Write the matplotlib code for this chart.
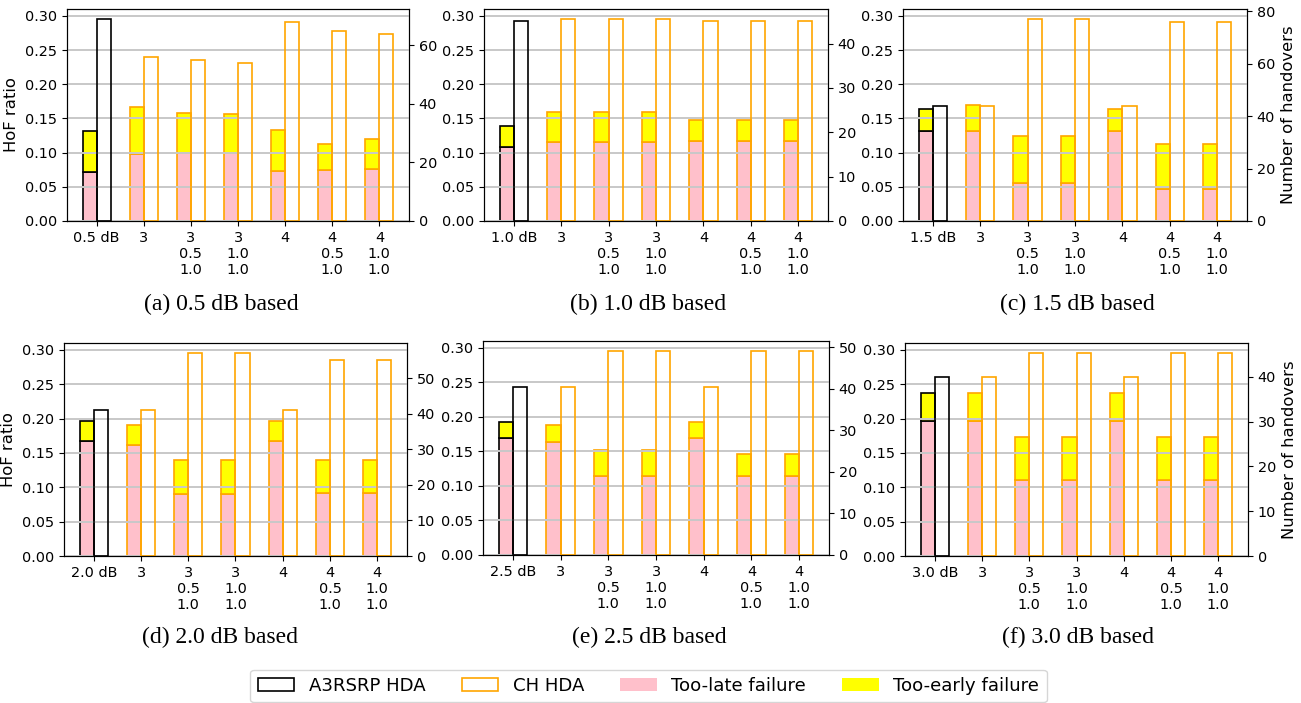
import numpy as np
import matplotlib
matplotlib.use("Agg")
import matplotlib.pyplot as plt
from matplotlib.patches import Patch

plt.rcParams['font.family'] = ['DejaVu Sans']

# x tick labels: baseline offset first, then TTT / hysteresis / offset combos
combos = ["3", "3\n0.5\n1.0", "3\n1.0\n1.0", "4", "4\n0.5\n1.0", "4\n1.0\n1.0"]
offsets = ["0.5", "1.0", "1.5", "2.0", "2.5", "3.0"]
panel_tags = ["a", "b", "c", "d", "e", "f"]

# too-late failure ratio per panel
too_late = [
    [0.072, 0.098, 0.099, 0.100, 0.0735, 0.0745, 0.0755],
    [0.108, 0.115, 0.115, 0.115, 0.117, 0.117, 0.117],
    [0.131, 0.132, 0.055, 0.055, 0.131, 0.047, 0.047],
    [0.167, 0.162, 0.090, 0.090, 0.167, 0.092, 0.092],
    [0.169, 0.163, 0.115, 0.115, 0.169, 0.115, 0.115],
    [0.196, 0.196, 0.111, 0.111, 0.196, 0.111, 0.111],
]
# too-early failure ratio per panel (stacked on top of too-late)
too_early = [
    [0.059, 0.068, 0.059, 0.057, 0.0595, 0.0385, 0.0445],
    [0.031, 0.045, 0.045, 0.045, 0.031, 0.031, 0.031],
    [0.033, 0.037, 0.070, 0.070, 0.033, 0.066, 0.066],
    [0.030, 0.029, 0.049, 0.049, 0.030, 0.048, 0.048],
    [0.024, 0.025, 0.037, 0.037, 0.024, 0.032, 0.032],
    [0.041, 0.041, 0.062, 0.062, 0.041, 0.062, 0.062],
]
# number of handovers per panel
handovers = [
    [69, 56, 55, 54, 68, 65, 64],
    [45, 45.5, 45.5, 45.5, 45, 45, 45],
    [44, 44, 77, 77, 44, 76, 76],
    [41, 41, 57, 57, 41, 55, 55],
    [40.5, 40.5, 49, 49, 40.5, 49, 49],
    [40, 40, 45.3, 45.3, 40, 45.3, 45.3],
]

W, H = 1301, 703
fig = plt.figure(figsize=(W / 100, H / 100), dpi=100)

# axes boxes in pixels: left, right, top, bottom
boxes = [
    (67, 409, 9, 221), (484, 828, 9, 221), (903, 1247, 9, 221),
    (64, 407, 343, 556), (483, 829, 341, 555), (905, 1248, 343, 556),
]
caption_x = [221, 648, 1077, 220, 649, 1078]
caption_y = [304, 304, 304, 637, 637, 637]

width = 0.3
lw = 1.2
x = np.arange(7)

for i in range(6):
    l, r, t, b = boxes[i]
    ax = fig.add_axes([l / W, 1 - b / H, (r - l) / W, (b - t) / H])
    ax2 = ax.twinx()

    edge = ['black'] + ['orange'] * 6
    late = np.array(too_late[i])
    early = np.array(too_early[i])
    ax.bar(x - width / 2, late, width, color='pink', edgecolor=edge, linewidth=lw)
    ax.bar(x - width / 2, early, width, bottom=late, color='yellow',
           edgecolor=edge, linewidth=lw)
    ax2.bar(x + width / 2, handovers[i], width, color='none',
            edgecolor=edge, linewidth=lw)

    ax.set_ylim(0, 0.31)
    ax.set_xticks(x)
    ax.set_xticklabels([offsets[i] + " dB"] + combos)
    ax.grid(axis='y', color='#c8c8c8', linewidth=1.4)
    ax.set_axisbelow(False)
    ax.tick_params(labelsize=10.4)
    ax2.tick_params(labelsize=10.4)

    if i in (0, 3):
        ax.set_ylabel("HoF ratio", fontsize=11.8)
    if i in (2, 5):
        ax2.set_ylabel("Number of handovers", fontsize=11.8)

    fig.text(caption_x[i] / W, 1 - caption_y[i] / H,
             "(%s) %s dB based" % (panel_tags[i], offsets[i]),
             ha='center', va='center', family='Liberation Serif', fontsize=17)

handles = [
    Patch(facecolor='white', edgecolor='black', linewidth=lw, label='A3RSRP HDA'),
    Patch(facecolor='white', edgecolor='orange', linewidth=lw, label='CH HDA'),
    Patch(facecolor='pink', label='Too-late failure'),
    Patch(facecolor='yellow', label='Too-early failure'),
]
fig.legend(handles=handles, loc='center', ncol=4, fontsize=13.1,
           bbox_to_anchor=(648.5 / W, 1 - 686 / H))

fig.savefig("out.png", dpi=100)
